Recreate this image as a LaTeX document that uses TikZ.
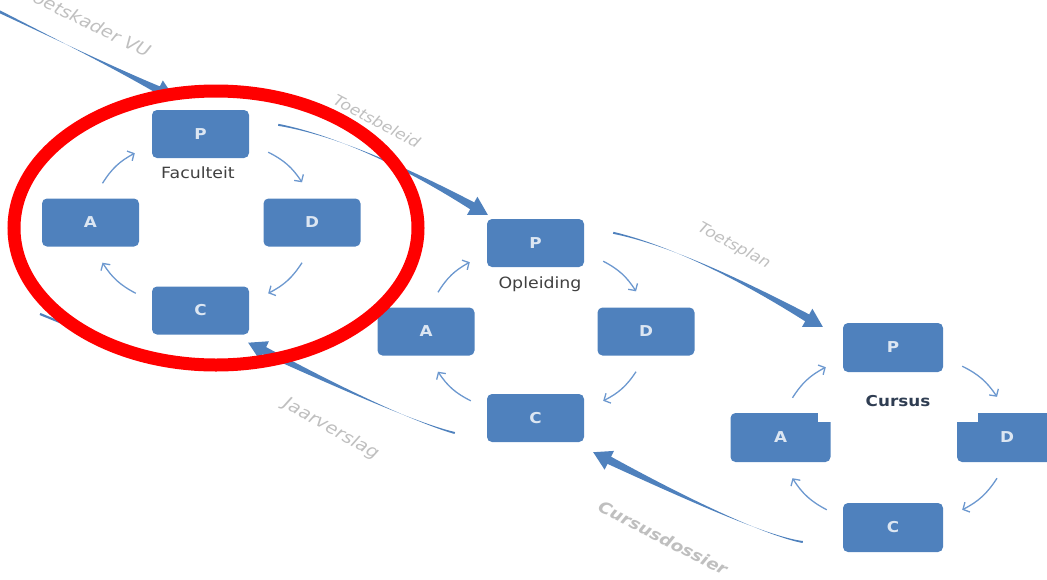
\documentclass[tikz,border=0pt]{standalone}
\usepackage{fontspec}
\setmainfont{DejaVu Sans}[FakeStretch=1.12]
\usetikzlibrary{arrows.meta,calc}
\definecolor{boxblue}{HTML}{4F81BD}
\definecolor{arrblue}{HTML}{4F81BD}
\definecolor{cycblue}{HTML}{6C98CF}
\definecolor{boxtext}{HTML}{DCE6F2}
\definecolor{labgray}{HTML}{BFBFBF}
\definecolor{grpdark}{HTML}{404040}
\definecolor{grpnavy}{HTML}{2F3D52}
\definecolor{ringred}{HTML}{FF0000}
% tapered big arrow: #1 start, #2 control, #3 tip, #4 half width at head base, #5 half width at start
\newcommand{\taperarrow}[5]{%
  \coordinate (tE) at ($(#3)!18pt!(#2)$);
  \fill[bigarrow] ($(#1)!#5!90:(#2)$)
     .. controls ($(#1)!0.667!(#2)$) and ($(tE)!0.667!(#2)$) .. ($(tE)!#4!90:(#2)$)
     -- ($(tE)!10.5pt!90:(#2)$) -- (#3) -- ($(tE)!10.5pt!-90:(#2)$)
     -- ($(tE)!#4!-90:(#2)$)
     .. controls ($(tE)!0.667!(#2)$) and ($(#1)!0.667!(#2)$) .. ($(#1)!#5!-90:(#2)$)
     -- cycle;}
\newcommand{\cyclearrows}[1]{%
  \draw[cyc] ([shift={(12,-15)}]#1A.north) to ([shift={(-17,-5)}]#1P.south west);
  \draw[cyc] ([shift={(19,-6)}]#1P.south east) to ([shift={(-10,-16)}]#1D.north);
  \draw[cyc] ([shift={(-10,16)}]#1D.south) to ([shift={(19,7)}]#1C.north east);
  \draw[cyc] ([shift={(-16,7)}]#1C.north west) to ([shift={(12,16)}]#1A.south);}
\begin{document}
\begin{tikzpicture}[x=1pt,y=-1pt,
  box/.style={fill=boxblue, rounded corners=5pt, minimum width=97pt, minimum height=48pt,
    inner sep=0pt, text=boxtext, font=\fontsize{15}{18}\selectfont\bfseries},
  widebox/.style={box, minimum width=100pt, minimum height=49pt},
  cyc/.style={draw=cycblue, line width=1.3pt, -{Straight Barb[length=5pt,width=11pt]}, bend left=15},
  bigarrow/.style={fill=arrblue},
  lab/.style={text=labgray, inner sep=0pt, font=\fontsize{15}{18}\selectfont\itshape},
  grp/.style={text=grpdark, inner sep=0pt, font=\fontsize{15.5}{18}\selectfont},
  ring/.style={draw=ringred, line width=13pt}
]
\useasboundingbox (0,0) rectangle (1047,579);
\clip (0,0) rectangle (1047,579);

% boxes
\node[box] (fP) at (200.5,134) {P};
\node[box] (fA) at (90.5,222.5) {A};
\node[box] (fD) at (312,222.5) {D};
\node[box] (fC) at (200.5,310.5) {C};

\node[box] (oP) at (535.5,243) {P};
\node[box] (oA) at (426,331.5) {A};
\node[box] (oD) at (646,331.5) {D};
\node[box] (oC) at (535.5,418) {C};

\node[widebox] (cP) at (893,347.5) {P};
\node[widebox] (cA) at (780.5,437.5) {A};
\node[widebox] (cD) at (1007,437.5) {D};
\node[widebox] (cC) at (893,527.5) {C};

% notches
\fill[white] ([shift={(-13,-1)}]cA.north east) rectangle ([shift={(1,9)}]cA.north east);
\fill[white] ([shift={(-1,-1)}]cD.north west) rectangle ([shift={(21,9)}]cD.north west);

% group labels
\node[grp] (fL) at (198,173) {Faculteit};
\node[grp] (oL) at (540,284) {Opleiding};
\node[grp, text=grpnavy, font=\fontsize{15}{18}\selectfont\bfseries] (cL) at (898,401) {Cursus};

% cycle arrows
\cyclearrows{f}
\cyclearrows{o}
\cyclearrows{c}

% big arrows
\coordinate (tkS) at (-10,7);
\coordinate (tkC) at (82,52);
\coordinate (tkT) at ([shift={(22.5,-12)}]fP.north west);
\taperarrow{tkS}{tkC}{tkT}{3.8pt}{1.6pt}

\coordinate (tbS) at ([shift={(29,15)}]fP.north east);
\coordinate (tbC) at (356,139);
\coordinate (tbT) at ([shift={(1,-4)}]oP.north west);
\taperarrow{tbS}{tbC}{tbT}{4pt}{1pt}

\coordinate (tpS) at ([shift={(29,14)}]oP.north east);
\coordinate (tpC) at (687,249);
\coordinate (tpT) at ([shift={(-20,4)}]cP.north west);
\taperarrow{tpS}{tpC}{tpT}{4pt}{1pt}

\coordinate (jvS) at ([shift={(-32,15)}]oC.west);
\coordinate (jvC) at (405,420);
\coordinate (jvT) at ([shift={(-1,8)}]fC.south east);
\taperarrow{jvS}{jvC}{jvT}{4pt}{1pt}

\coordinate (cdS) at ([shift={(-40,14.5)}]cC.west);
\coordinate (cdC) at (758,535);
\coordinate (cdT) at ([shift={(9,10)}]oC.south east);
\taperarrow{cdS}{cdC}{cdT}{4pt}{1pt}

\coordinate (frA) at (40,314);
\coordinate (frB) at (72,327);
\draw[arrblue, line width=2.2pt] (frA) -- (frB);

% arrow labels
\node[lab, rotate=-26, anchor=base east, font=\fontsize{17}{20}\selectfont\itshape] (tkL) at (147,58) {Toetskader VU};
\node[lab, rotate=-28] (tbL) at (377,121) {Toetsbeleid};
\node[lab, rotate=-29] (tpL) at (734,246) {Toetsplan};
\node[lab, rotate=-29.5, font=\fontsize{17}{20}\selectfont\itshape] (jvL) at (331,429) {Jaarverslag};
\node[lab, rotate=-27, font=\fontsize{16}{19}\selectfont\itshape\bfseries] (cdL) at (663,538) {Cursusdossier};

% red ring
\draw[ring] (216,228) ellipse [x radius=202pt, y radius=137pt];
\end{tikzpicture}
\end{document}
